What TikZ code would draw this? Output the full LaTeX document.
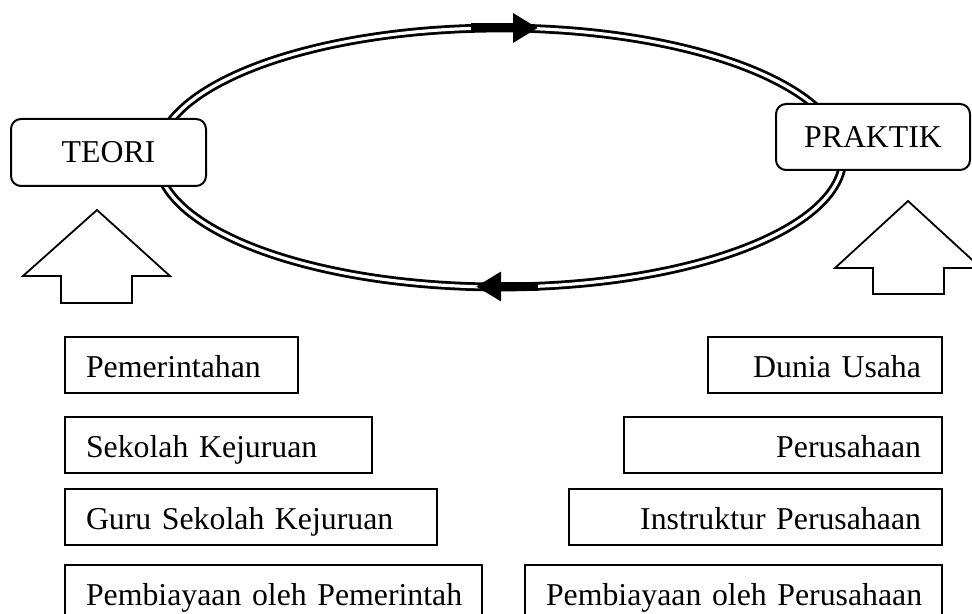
\documentclass[tikz,border=0pt]{standalone}
\usepackage{fontspec}
\setmainfont{Liberation Serif}[WordSpace=0.85]
\usetikzlibrary{arrows.meta, positioning}

\begin{document}
\begin{tikzpicture}[
        x=0.5pt, y=-0.5pt,
        >={Triangle[length=12.5pt, width=14pt]},
        font=\fontsize{15.9}{19}\selectfont,
        side/.style={draw, line width=1pt, rounded corners=5pt, fill=white, align=center},
        item/.style={draw, line width=1pt, fill=white, minimum height=28pt, inner xsep=10.5pt, inner ysep=0pt, outer sep=0pt,
            text height=15pt, text depth=3pt,
            execute at begin node=\leavevmode\hbox\bgroup, execute at end node=\egroup},
        iteml/.style={item, align=left},
        itemr/.style={item, align=right},
        cyc/.style={draw, line width=1.4pt, double, double distance=1.6pt},
        flow/.style={line width=4.5pt},
        bigarrow/.style={draw, line width=0.9pt, fill=white},
    ]
    \useasboundingbox (0,0) rectangle (972,614);

    % Cycle between theory and practice
    \coordinate (cycle) at (500,157.5);
    \draw[cyc] (cycle) ellipse [x radius=171.5pt, y radius=64.75pt];
    \draw[flow, ->] (471,28) -- (538,28);
    \draw[flow, ->] (538,286.5) -- (476,286.5);

    % Nodes
    \node[side, minimum width=97.5pt, minimum height=33.5pt] (teori) at (108.5,152.5) {TEORI};
    \node[side, minimum width=97pt, minimum height=33pt] (praktik) at (873,137) {PRAKTIK};

    % Up arrows
    \draw[bigarrow] (97,210) -- (170,276) -- (132,276) -- (132,303) -- (61,303) -- (61,276) -- (23,276) -- cycle;
    \draw[bigarrow] (908,201) -- (981,268) -- (944,268) -- (944,294) -- (873,294) -- (873,268) -- (835,268) -- cycle;

    % Government side
    \node[iteml, text width=95.5pt, anchor=north west] (pemerintah) at (65,337) {Pemerintahan};
    \node[iteml, text width=132.5pt, below=12pt of pemerintah.south west, anchor=north west] (sekolah) {Sekolah Kejuruan};
    \node[iteml, text width=165pt, below=8pt of sekolah.south west, anchor=north west] (guru) {Guru Sekolah Kejuruan};
    \node[iteml, text width=187.5pt, below=10pt of guru.south west, anchor=north west] (biayal) {Pembiayaan oleh Pemerintah};

    % Industry side
    \node[itemr, text width=96pt, anchor=north east] (dunia) at (942,337) {Dunia Usaha};
    \node[itemr, text width=138pt, below=12pt of dunia.south east, anchor=north east] (perusahaan) {Perusahaan};
    \node[itemr, text width=165.5pt, below=8pt of perusahaan.south east, anchor=north east] (instruktur) {Instruktur Perusahaan};
    \node[itemr, text width=187.5pt, below=10pt of instruktur.south east, anchor=north east] (biayar) {Pembiayaan oleh Perusahaan};

\end{tikzpicture}
\end{document}
